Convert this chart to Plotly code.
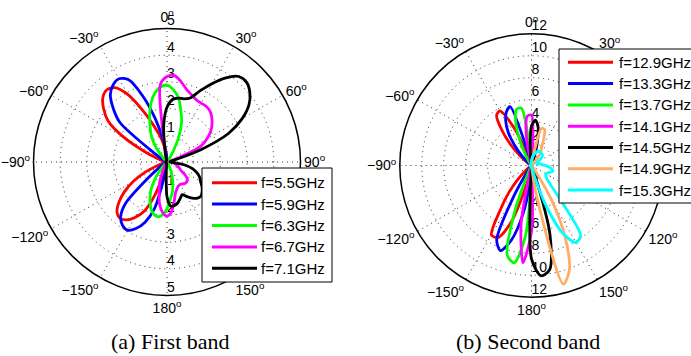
import plotly.graph_objects as go

# angle grid (deg, clockwise from top): -180, -175, ..., 175
THETA = list(range(-180, 180, 5))

# ---------- (a) First band ----------
BAND1_LABELS = ["f=5.5GHz", "f=5.9GHz", "f=6.3GHz", "f=6.7GHz", "f=7.1GHz"]
BAND1_COLORS = ["#ff0000", "#0000ff", "#00ff00", "#ff00ff", "#000000"]

r_5p5 = [0.10, 0.10, 0.10, 0.35, 1.30, 2.05, 2.40, 2.65, 2.75, 2.65, 2.35, 1.95,
         1.45, 0.90, 0.35, 0.10, 0.05, 0.05, 0.05, 0.05, 0.05, 0.15, 0.40, 0.95,
         1.90, 2.70, 3.10, 3.40, 3.52, 3.40, 2.90, 2.10, 1.45, 1.00, 0.60, 0.25,
         0.05, 0.05, 0.05, 0.05, 0.05, 0.05, 0.05, 0.05, 0.05, 0.05, 0.05, 0.05,
         0.05, 0.05, 0.05, 0.05, 0.05, 0.05, 0.05, 0.05, 0.05, 0.05, 0.05, 0.05,
         0.05, 0.05, 0.05, 0.05, 0.05, 0.05, 0.05, 0.05, 0.05, 0.05, 0.05, 0.05]
r_5p9 = [0.10, 0.15, 0.50, 1.80, 2.40, 2.75, 2.95, 2.90, 2.70, 2.20, 0.90, 0.30,
         0.10, 0.05, 0.05, 0.05, 0.05, 0.05, 0.05, 0.05, 0.05, 0.05, 0.05, 0.05,
         0.15, 0.60, 2.30, 2.85, 3.30, 3.52, 3.60, 3.40, 2.60, 1.65, 0.85, 0.35,
         0.10, 0.05, 0.05, 0.05, 0.05, 0.05, 0.05, 0.05, 0.05, 0.05, 0.05, 0.05,
         0.05, 0.05, 0.05, 0.05, 0.05, 0.05, 0.05, 0.05, 0.05, 0.05, 0.05, 0.05,
         0.05, 0.05, 0.05, 0.05, 0.05, 0.05, 0.05, 0.05, 0.05, 0.05, 0.05, 0.05]
r_6p3 = [1.75, 2.00, 2.08, 2.00, 1.80, 1.50, 1.20, 0.80, 0.40, 0.10, 0.05, 0.05,
         0.05, 0.05, 0.05, 0.05, 0.05, 0.05, 0.05, 0.05, 0.05, 0.05, 0.05, 0.05,
         0.05, 0.05, 0.05, 0.10, 0.45, 0.85, 1.20, 1.50, 1.90, 2.30, 2.62, 2.82,
         2.88, 2.72, 2.45, 2.00, 1.60, 1.05, 0.45, 0.15, 0.05, 0.05, 0.05, 0.05,
         0.05, 0.05, 0.05, 0.05, 0.05, 0.05, 0.05, 0.05, 0.05, 0.05, 0.05, 0.05,
         0.05, 0.05, 0.05, 0.05, 0.05, 0.05, 0.15, 0.30, 0.55, 0.85, 1.15, 1.40]
r_6p7 = [2.03, 1.90, 1.60, 1.13, 0.80, 0.40, 0.15, 0.05, 0.05, 0.05, 0.05, 0.05,
         0.05, 0.05, 0.05, 0.05, 0.05, 0.05, 0.05, 0.05, 0.05, 0.05, 0.05, 0.05,
         0.05, 0.05, 0.05, 0.05, 0.05, 0.05, 0.05, 0.05, 0.05, 0.10, 0.30, 2.90,
         3.20, 3.25, 3.05, 2.82, 2.68, 2.58, 2.55, 2.55, 2.50, 2.37, 2.20, 2.00,
         1.72, 1.40, 0.50, 0.15, 0.10, 0.10, 0.15, 0.20, 0.28, 0.35, 0.40, 0.50,
         0.58, 0.80, 1.00, 1.05, 1.05, 1.00, 0.98, 1.00, 1.08, 1.22, 1.52, 1.88]
r_7p1 = [1.30, 0.30, 0.10, 0.05, 0.05, 0.05, 0.05, 0.05, 0.05, 0.05, 0.05, 0.05,
         0.05, 0.05, 0.05, 0.05, 0.05, 0.05, 0.05, 0.05, 0.05, 0.05, 0.05, 0.05,
         0.05, 0.05, 0.05, 0.05, 0.05, 0.05, 0.05, 0.05, 0.05, 0.05, 0.40, 1.40,
         2.05, 2.35, 2.43, 2.45, 2.55, 2.95, 3.40, 3.85, 4.18, 4.22, 4.05, 3.75,
         3.25, 2.55, 1.35, 0.30, 0.15, 0.12, 0.12, 0.20, 0.70, 1.00, 1.20, 1.35,
         1.45, 1.60, 1.72, 1.80, 1.77, 1.65, 1.50, 1.35, 1.45, 1.58, 1.65, 1.66]
BAND1 = [r_5p5, r_5p9, r_6p3, r_6p7, r_7p1]

# ---------- (b) Second band ----------
BAND2_LABELS = ["f=12.9GHz", "f=13.3GHz", "f=13.7GHz", "f=14.1GHz",
                "f=14.5GHz", "f=14.9GHz", "f=15.3GHz"]
BAND2_COLORS = ["#ff0000", "#0000ff", "#00ff00", "#ff00ff",
                "#000000", "#ffad66", "#00ffff"]

r_12p9 = [0.1, 0.1, 0.3, 2.0, 5.6, 7.25, 7.3, 5.0, 3.2, 1.6, 0.5, 0.1,
          0.1, 0.1, 0.1, 0.1, 0.1, 0.1, 0.1, 0.1, 0.1, 0.1, 0.1, 0.1,
          0.15, 0.45, 1.3, 2.7, 4.2, 5.55, 5.75, 3.85, 1.2, 0.3, 0.1, 0.1,
          0.1, 0.1, 0.1, 0.1, 0.1, 0.1, 0.1, 0.1, 0.1, 0.1, 0.1, 0.1,
          0.1, 0.1, 0.1, 0.1, 0.1, 0.1, 0.1, 0.1, 0.1, 0.1, 0.1, 0.1,
          0.1, 0.1, 0.1, 0.1, 0.1, 0.1, 0.1, 0.1, 0.1, 0.1, 0.1, 0.1]
r_13p3 = [0.3, 1.6, 4.5, 7.0, 8.25, 7.5, 3.2, 0.5, 0.1, 0.1, 0.1, 0.1,
          0.1, 0.1, 0.1, 0.1, 0.1, 0.1, 0.1, 0.1, 0.1, 0.1, 0.1, 0.1,
          0.1, 0.1, 0.4, 1.2, 2.4, 3.7, 4.7, 5.4, 5.7, 1.2, 0.2, 0.1,
          0.1, 0.1, 0.1, 0.1, 0.1, 0.1, 0.1, 0.1, 0.1, 0.1, 0.1, 0.1,
          0.1, 0.1, 0.1, 0.1, 0.1, 0.1, 0.1, 0.1, 0.1, 0.1, 0.1, 0.1,
          0.1, 0.1, 0.1, 0.1, 0.1, 0.1, 0.1, 0.1, 0.1, 0.1, 0.1, 0.1]
r_13p7 = [1.0, 6.5, 9.0, 8.5, 4.5, 0.5, 0.1, 0.1, 0.1, 0.1, 0.1, 0.1,
          0.1, 0.1, 0.1, 0.1, 0.1, 0.1, 0.1, 0.1, 0.1, 0.1, 0.1, 0.1,
          0.1, 0.1, 0.1, 0.1, 0.1, 0.3, 1.0, 2.5, 4.2, 5.3, 5.3, 1.0,
          0.1, 0.1, 0.1, 0.1, 0.1, 0.1, 0.1, 0.1, 0.1, 0.1, 0.1, 0.1,
          0.1, 0.1, 0.1, 0.1, 0.1, 0.1, 0.1, 0.1, 0.1, 0.1, 0.1, 0.1,
          0.1, 0.1, 0.1, 0.1, 0.1, 0.1, 0.1, 0.1, 0.1, 0.1, 0.1, 0.2]
r_14p1 = [6.0, 8.9, 5.5, 0.4, 0.1, 0.1, 0.1, 0.1, 0.1, 0.1, 0.1, 0.1,
          0.1, 0.1, 0.1, 0.1, 0.1, 0.1, 0.1, 0.1, 0.1, 0.1, 0.1, 0.1,
          0.1, 0.1, 0.1, 0.1, 0.1, 0.1, 0.1, 0.1, 0.1, 0.3, 2.7, 4.5,
          4.6, 1.0, 0.1, 0.1, 0.1, 0.1, 0.1, 0.1, 0.1, 0.1, 0.1, 0.1,
          0.1, 0.1, 0.1, 0.1, 0.1, 0.1, 0.1, 0.1, 0.1, 0.1, 0.1, 0.1,
          0.1, 0.1, 0.1, 0.1, 0.1, 0.1, 0.1, 0.1, 0.1, 0.1, 0.1, 0.5]
r_14p5 = [8.5, 0.3, 0.1, 0.1, 0.1, 0.1, 0.1, 0.1, 0.1, 0.1, 0.1, 0.1,
          0.1, 0.1, 0.1, 0.1, 0.1, 0.1, 0.1, 0.1, 0.1, 0.1, 0.1, 0.1,
          0.1, 0.1, 0.1, 0.1, 0.1, 0.1, 0.1, 0.1, 0.1, 0.1, 0.1, 1.2,
          3.6, 4.15, 3.5, 1.8, 0.4, 0.1, 0.1, 0.1, 0.1, 0.1, 0.1, 0.1,
          0.1, 0.1, 0.1, 0.1, 0.1, 0.1, 0.1, 0.1, 0.1, 0.1, 0.1, 0.1,
          0.1, 0.1, 0.1, 0.1, 0.1, 0.1, 0.1, 0.1, 0.8, 6.5, 9.6, 10.1]
r_14p9 = [0.1, 0.1, 0.1, 0.1, 0.1, 0.1, 0.1, 0.1, 0.1, 0.1, 0.1, 0.1,
          0.1, 0.1, 0.1, 0.1, 0.1, 0.1, 0.1, 0.1, 0.1, 0.1, 0.1, 0.1,
          0.1, 0.1, 0.1, 0.1, 0.1, 0.1, 0.1, 0.1, 0.1, 0.1, 0.1, 0.1,
          0.1, 0.5, 1.0, 3.5, 3.5, 2.6, 1.8, 1.5, 0.7, 0.2, 0.1, 0.1,
          0.1, 0.1, 0.1, 0.1, 0.1, 0.1, 0.1, 0.1, 0.1, 0.1, 0.1, 0.1,
          0.1, 0.1, 0.1, 0.1, 0.1, 0.6, 3.8, 7.3, 10.1, 11.2, 3.3, 0.3]
r_15p3 = [0.1, 0.1, 0.1, 0.1, 0.1, 0.1, 0.1, 0.1, 0.1, 0.1, 0.1, 0.1,
          0.1, 0.1, 0.1, 0.1, 0.1, 0.1, 0.1, 0.1, 0.1, 0.1, 0.1, 0.1,
          0.1, 0.1, 0.1, 0.1, 0.1, 0.1, 0.1, 0.1, 0.1, 0.1, 0.15, 0.3,
          0.5, 0.7, 0.9, 1.1, 1.3, 1.45, 1.45, 1.45, 1.4, 1.4, 1.3, 1.0,
          0.7, 0.5, 0.5, 0.6, 0.8, 1.0, 1.25, 1.6, 1.9, 2.0, 1.8, 1.6,
          1.5, 1.6, 1.8, 2.4, 4.2, 7.8, 8.1, 6.9, 4.0, 1.0, 0.3, 0.1]
BAND2 = [r_12p9, r_13p3, r_13p7, r_14p1, r_14p5, r_14p9, r_15p3]

# radial tick labels
BAND1_RTICKS = [1, 2, 3, 4, 5]
BAND2_RTICKS = [2, 4, 6, 8, 10, 12]

ANG_VALS = list(range(0, 360, 30))
ANG_TEXT = ["0<sup>o</sup>", "30<sup>o</sup>", "60<sup>o</sup>", "90<sup>o</sup>",
            "120<sup>o</sup>", "150<sup>o</sup>", "180<sup>o</sup>",
            "\u2212150<sup>o</sup>", "\u2212120<sup>o</sup>", "\u221290<sup>o</sup>",
            "\u221260<sup>o</sup>", "\u221230<sup>o</sup>"]

SANS = "Liberation Sans, Arial, Helvetica, sans-serif"
SERIF = "Liberation Serif, Times New Roman, serif"
W, H = 691, 356

fig = go.Figure()


def add_rtick_text(subplot, ticks):
    for ang in (0, 180):
        fig.add_trace(go.Scatterpolar(
            r=ticks, theta=[ang] * len(ticks), mode="text",
            text=[str(t) for t in ticks], textposition="top right",
            textfont=dict(family=SANS, size=14, color="black"),
            subplot=subplot, showlegend=False, hoverinfo="skip",
            cliponaxis=False))


def add_band(subplot, series, labels, colors):
    for r, name, col in zip(series, labels, colors):
        fig.add_trace(go.Scatterpolar(
            r=r + [r[0]], theta=THETA + [THETA[0] + 360], mode="lines",
            name=name, line=dict(color=col, width=2.8, shape="spline", smoothing=0.8),
            subplot=subplot, showlegend=False, hoverinfo="skip"))


add_rtick_text("polar", BAND1_RTICKS)
add_band("polar", BAND1, BAND1_LABELS, BAND1_COLORS)
add_rtick_text("polar2", BAND2_RTICKS)
add_band("polar2", BAND2, BAND2_LABELS, BAND2_COLORS)


def polar_layout(cx, cy, rad, rmax, dtick):
    return dict(
        domain=dict(x=[(cx - rad) / W, (cx + rad) / W],
                    y=[1 - (cy + rad) / H, 1 - (cy - rad) / H]),
        bgcolor="white",
        radialaxis=dict(range=[0, rmax], dtick=dtick, showticklabels=False,
                        ticks="", showline=False, gridcolor="rgba(0,0,0,0.8)",
                        griddash="1px,4px", gridwidth=1),
        angularaxis=dict(direction="clockwise", rotation=90,
                         tickmode="array", tickvals=ANG_VALS, ticktext=ANG_TEXT,
                         ticks="", showline=True, linecolor="black", linewidth=1.5,
                         gridcolor="rgba(0,0,0,0.8)", griddash="1px,4px", gridwidth=1,
                         tickfont=dict(family=SANS, size=14, color="black")),
    )


# boxed legends (pixel layout, converted to paper fractions)
shapes, annotations = [], []


def boxed_legend(labels, colors, box, row0, step, sx0, sx1, tx):
    x0, y0, x1, y1 = box
    shapes.append(dict(type="rect", xref="paper", yref="paper",
                       x0=x0 / W, x1=x1 / W, y0=1 - y1 / H, y1=1 - y0 / H,
                       line=dict(color="black", width=1), fillcolor="white",
                       layer="above"))
    for i, (lab, col) in enumerate(zip(labels, colors)):
        yy = 1 - (row0 + i * step) / H
        shapes.append(dict(type="line", xref="paper", yref="paper",
                           x0=sx0 / W, x1=sx1 / W, y0=yy, y1=yy,
                           line=dict(color=col, width=3), layer="above"))
        annotations.append(dict(text=lab, x=tx / W, y=yy, xref="paper", yref="paper",
                                xanchor="left", yanchor="middle", showarrow=False,
                                font=dict(family=SANS, size=15, color="black")))


boxed_legend(BAND1_LABELS, BAND1_COLORS, (202, 168, 332, 282), 182.7, 21.4, 212, 257, 259)
boxed_legend(BAND2_LABELS, BAND2_COLORS, (559, 49, 760, 203), 62.3, 21.3, 568, 613, 617)

annotations += [
    dict(text="(a) First band", x=170 / W, y=1 - 341 / H, xref="paper", yref="paper",
         xanchor="center", yanchor="middle", showarrow=False,
         font=dict(family=SERIF, size=22, color="black")),
    dict(text="(b) Second band", x=528 / W, y=1 - 341 / H, xref="paper", yref="paper",
         xanchor="center", yanchor="middle", showarrow=False,
         font=dict(family=SERIF, size=22, color="black")),
]

fig.update_layout(
    width=W, height=H,
    margin=dict(l=0, r=0, t=0, b=0, autoexpand=False),
    paper_bgcolor="white", plot_bgcolor="white",
    showlegend=False, hovermode=False, dragmode=False,
    polar=polar_layout(167, 162, 133.5, 5, 1),
    polar2=polar_layout(531.5, 165.5, 131.7, 12, 2),
    shapes=shapes,
    annotations=annotations,
)

fig.write_html("out.html", config={"displayModeBar": False, "staticPlot": True},
               post_script="document.body.style.margin='0px';")
